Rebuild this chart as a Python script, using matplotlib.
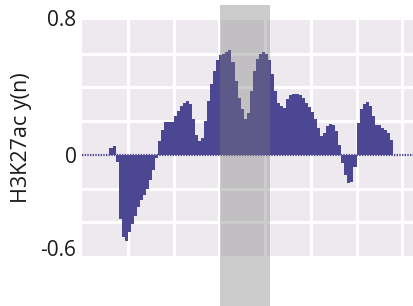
#!/usr/bin/env python3
import matplotlib
matplotlib.use("Agg")
import matplotlib.pyplot as plt
from matplotlib.patches import Rectangle
from matplotlib.transforms import blended_transform_factory, ScaledTranslation

# bar profile, one value per bin (bins 9..101)
first_bin = 9
values = [
    0.04, 0.05, -0.04, -0.38, -0.49, -0.51, -0.46, -0.41, -0.36, -0.31,   # 9-18
    -0.27, -0.24, -0.20, -0.15, -0.09, -0.02, 0.08, 0.15, 0.196, 0.196,   # 19-28
    0.196, 0.23, 0.26, 0.29, 0.31, 0.32, 0.30, 0.21, 0.12, 0.08,          # 29-38
    0.10, 0.20, 0.32, 0.42, 0.50, 0.56, 0.59, 0.60, 0.61, 0.62,           # 39-48
    0.55, 0.44, 0.34, 0.27, 0.21, 0.25, 0.38, 0.50, 0.57, 0.60,           # 49-58
    0.61, 0.60, 0.56, 0.48, 0.38, 0.31, 0.29, 0.28, 0.33, 0.355,          # 59-68
    0.363, 0.363, 0.355, 0.34, 0.31, 0.285, 0.255, 0.21, 0.16, 0.11,      # 69-78
    0.13, 0.17, 0.186, 0.18, 0.14, 0.06, -0.05, -0.12, -0.167, -0.16,     # 79-88
    -0.07, 0.19, 0.27, 0.30, 0.314, 0.29, 0.23, 0.18, 0.176, 0.157,       # 89-98
    0.15, 0.128, 0.09,                                                    # 99-101
]
n_bins_visible = 108.85
grid_every = 15
highlight = (45.25, 61.65)   # shaded window, in bins
y_ticks = [-0.6, 0, 0.8]
y_tick_labels = ["-0.6", "0", "0.8"]
y_label = "H3K27ac y(n)"

BAR = "#4b4792"
PANEL = "#ede9ef"

def main():
    plt.rcParams['font.family'] = ['Open Sans', 'DejaVu Sans']
    fig = plt.figure(figsize=(4.14, 3.06), dpi=100)
    W, H = 414, 306
    ax = fig.add_axes([82 / W, 50 / H, (W - 82) / W, 236 / H])
    ax.set_facecolor(PANEL)
    for s in ax.spines.values():
        s.set_visible(False)

    xs = [first_bin + i for i in range(len(values))]
    # dotted baseline under the bars
    ax.plot([0, n_bins_visible], [0, 0], color=BAR, lw=1.6, ls=(0, (0.6, 0.6)), zorder=2)
    ax.bar(xs, values, width=1.0, align="edge", color=BAR, linewidth=0, zorder=3)

    ax.set_xlim(0, n_bins_visible)
    ax.set_ylim(-0.6, 0.8)
    ax.set_xticks([grid_every * k for k in range(1, 8)], minor=True)
    ax.set_xticks([])
    ax.set_yticks([-0.6 + 0.2 * k for k in range(1, 7)], minor=True)
    ax.set_yticks(y_ticks)
    ax.set_yticklabels(y_tick_labels, fontsize=15, color="#1a1a1a")
    ax.tick_params(axis="both", which="both", length=0)
    ax.tick_params(axis="y", pad=4)
    ax.grid(True, which="minor", color="white", lw=2.2, zorder=1)
    ax.set_axisbelow(True)

    # nudge tick labels up a bit, as in the source figure
    for lab in ax.get_yticklabels():
        if lab.get_text() == "-0.6":
            lab.set_transform(lab.get_transform() + ScaledTranslation(0, 8 / 100, fig.dpi_scale_trans))
        elif lab.get_text() == "0.8":
            lab.set_transform(lab.get_transform() + ScaledTranslation(0, 2 / 100, fig.dpi_scale_trans))

    # grey window, runs past the panel top and bottom
    tr = blended_transform_factory(ax.transData, fig.transFigure)
    ax.add_patch(Rectangle((highlight[0], 0), highlight[1] - highlight[0], (H - 5) / H,
                           transform=tr, facecolor="#7b7b7b", alpha=0.38, lw=0,
                           clip_on=False, zorder=5))

    fig.text(22 / W, (H - 138) / H, y_label, rotation=90, ha="center", va="center",
             fontsize=15.5, color="#1a1a1a")

    fig.savefig("out.png", dpi=100)
    plt.close(fig)

if __name__ == "__main__":
    main()
